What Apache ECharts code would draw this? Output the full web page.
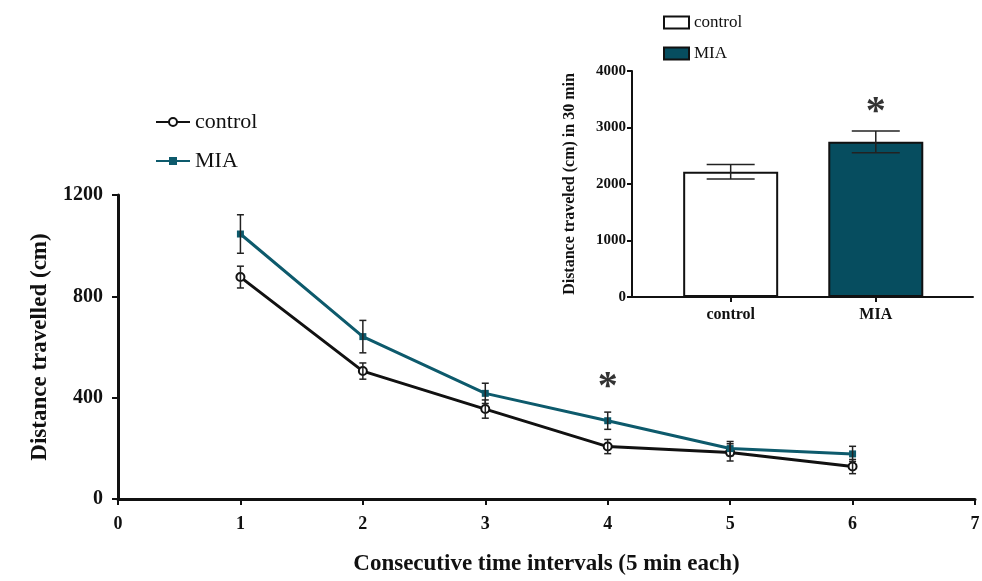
<!DOCTYPE html>
<html>
<head>
<meta charset="utf-8">
<script src="https://cdn.jsdelivr.net/npm/echarts@6/dist/echarts.min.js"></script>
<style>
html, body { margin: 0; padding: 0; background: #fff; }
#chart { width: 982px; height: 581px; }
</style>
</head>
<body>
<div id="chart"></div>
<script>
// main line chart
var intervals = [1, 2, 3, 4, 5, 6];
var controlMean = [876, 505, 355, 207, 184, 128];
var controlSem = [43, 32, 36, 28, 34, 28];
var miaMean = [1046, 641, 417, 309, 199, 178];
var miaSem = [76, 64, 40, 34, 28, 30];
var lineStars = [[4, 440]];

// inset bar chart
var groups = ['control', 'MIA'];
var totalMean = [2215, 2747];
var totalSem = [128, 192];
var barStars = [[2, 3270]];

var serif = '"Liberation Serif", "DejaVu Serif", serif';
var teal = '#0d5a6c';
var tealBar = '#064d5f';

function pairs(xs, ys, es) {
    return xs.map(function (x, i) { return es ? [x, ys[i], es[i]] : [x, ys[i]]; });
}

function plain(v) { return String(v); }

function errorBars(cap, width) {
    return function (params, api) {
        var x = api.value(0), y = api.value(1), e = api.value(2);
        var hi = api.coord([x, y + e]);
        var lo = api.coord([x, y - e]);
        var st = { stroke: '#222', lineWidth: width };
        return {
            type: 'group',
            children: [
                { type: 'line', shape: { x1: hi[0], y1: hi[1], x2: lo[0], y2: lo[1] }, style: st },
                { type: 'line', shape: { x1: hi[0] - cap, y1: hi[1], x2: hi[0] + cap, y2: hi[1] }, style: st },
                { type: 'line', shape: { x1: lo[0] - cap, y1: lo[1], x2: lo[0] + cap, y2: lo[1] }, style: st }
            ]
        };
    };
}

var myChart = echarts.init(document.getElementById('chart'));

var options = {
    animation: false,
    backgroundColor: '#fff',
    grid: [
        { left: 118, right: 7, top: 195, bottom: 82, outerBoundsMode: 'none' },
        { left: 632, right: 9, top: 71, bottom: 284, outerBoundsMode: 'none' }
    ],
    legend: [
        {
            data: ['control', 'MIA'],
            orient: 'vertical', left: 150, top: 106,
            itemWidth: 34, itemHeight: 10, itemGap: 17,
            textStyle: { fontFamily: serif, fontSize: 22, color: '#111' }
        },
        {
            data: ['control bar', 'MIA bar'],
            orient: 'vertical', left: 658, top: 9,
            icon: 'rect',
            itemWidth: 25, itemHeight: 12, itemGap: 14,
            formatter: function (n) { return n.replace(' bar', ''); },
            textStyle: { fontFamily: serif, fontSize: 17, color: '#111' }
        }
    ],
    xAxis: [
        {
            gridIndex: 0, type: 'value', min: 0, max: 7, interval: 1,
            name: 'Consecutive time intervals (5 min each)',
            nameLocation: 'middle', nameGap: 54,
            nameTextStyle: { fontFamily: serif, fontSize: 23, fontWeight: 'bold', color: '#111' },
            splitLine: { show: false },
            axisLine: { lineStyle: { color: '#111', width: 3 } },
            axisTick: { show: true, length: 6, lineStyle: { color: '#111', width: 2 } },
            axisLabel: { formatter: plain, fontFamily: serif, fontSize: 18, fontWeight: 'bold', color: '#111', margin: 16 }
        },
        {
            gridIndex: 1, type: 'value', min: 0.32, max: 2.67,
            splitLine: { show: false },
            axisLine: { lineStyle: { color: '#111', width: 2 } },
            axisTick: { show: true, length: 5, customValues: [1, 2], lineStyle: { color: '#111', width: 2 } },
            axisLabel: {
                customValues: [1, 2],
                formatter: function (v) { return groups[Math.round(v) - 1]; },
                fontFamily: serif, fontSize: 16, fontWeight: 'bold', color: '#111', margin: 10
            }
        }
    ],
    yAxis: [
        {
            gridIndex: 0, type: 'value', min: 0, max: 1200, interval: 400,
            name: 'Distance travelled (cm)',
            nameLocation: 'middle', nameGap: 66,
            nameTextStyle: { fontFamily: serif, fontSize: 23, fontWeight: 'bold', color: '#111' },
            splitLine: { show: false },
            axisLine: { show: true, lineStyle: { color: '#111', width: 3 } },
            axisTick: { show: true, length: 6, lineStyle: { color: '#111', width: 2 } },
            axisLabel: { formatter: plain, fontFamily: serif, fontSize: 20, fontWeight: 'bold', color: '#111', margin: 15 }
        },
        {
            gridIndex: 1, type: 'value', min: 0, max: 4000, interval: 1000,
            name: 'Distance traveled (cm) in 30 min',
            nameLocation: 'middle', nameGap: 54,
            nameTextStyle: { fontFamily: serif, fontSize: 16, fontWeight: 'bold', color: '#111' },
            splitLine: { show: false },
            axisLine: { show: true, lineStyle: { color: '#111', width: 2 } },
            axisTick: { show: true, length: 5, lineStyle: { color: '#111', width: 2 } },
            axisLabel: { formatter: plain, fontFamily: serif, fontSize: 15, fontWeight: 'bold', color: '#111', margin: 6 }
        }
    ],
    series: [
        {
            name: 'control', type: 'line', xAxisIndex: 0, yAxisIndex: 0,
            data: pairs(intervals, controlMean),
            symbol: 'emptyCircle', symbolSize: 8,
            lineStyle: { color: '#111', width: 3 },
            itemStyle: { color: '#111', borderWidth: 1.5 },
            z: 3
        },
        {
            name: 'MIA', type: 'line', xAxisIndex: 0, yAxisIndex: 0,
            data: pairs(intervals, miaMean),
            symbol: 'rect', symbolSize: 7,
            lineStyle: { color: teal, width: 3 },
            itemStyle: { color: teal },
            z: 4
        },
        {
            type: 'custom', xAxisIndex: 0, yAxisIndex: 0,
            renderItem: errorBars(3.5, 1.5),
            data: pairs(intervals, controlMean, controlSem), z: 5
        },
        {
            type: 'custom', xAxisIndex: 0, yAxisIndex: 0,
            renderItem: errorBars(3.5, 1.5),
            data: pairs(intervals, miaMean, miaSem), z: 5
        },
        {
            name: 'control bar', type: 'bar', xAxisIndex: 1, yAxisIndex: 1,
            data: [[1, totalMean[0]]], barWidth: 95, barGap: '-100%',
            itemStyle: { color: '#fff', borderColor: '#111', borderWidth: 2 }
        },
        {
            name: 'MIA bar', type: 'bar', xAxisIndex: 1, yAxisIndex: 1,
            data: [[2, totalMean[1]]], barWidth: 95, barGap: '-100%',
            itemStyle: { color: tealBar, borderColor: '#111', borderWidth: 2 }
        },
        {
            type: 'custom', xAxisIndex: 1, yAxisIndex: 1,
            renderItem: errorBars(24, 1.5),
            data: pairs([1, 2], totalMean, totalSem), z: 5
        },
        {
            type: 'scatter', xAxisIndex: 0, yAxisIndex: 0, symbolSize: 0,
            data: lineStars, silent: true,
            label: { show: true, formatter: '*', position: 'inside', fontFamily: serif, fontSize: 40, fontWeight: 'bold', color: '#000' }
        },
        {
            type: 'scatter', xAxisIndex: 1, yAxisIndex: 1, symbolSize: 0,
            data: barStars, silent: true,
            label: { show: true, formatter: '*', position: 'inside', fontFamily: serif, fontSize: 40, fontWeight: 'bold', color: '#000' }
        }
    ]
};

myChart.setOption(options);
</script>
</body>
</html>
